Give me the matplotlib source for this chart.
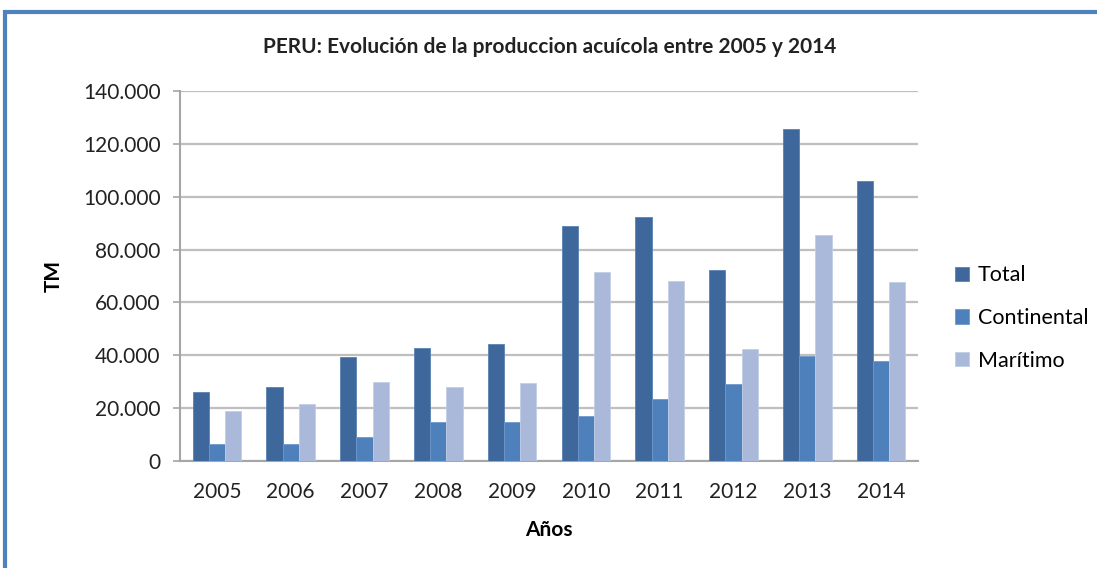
import matplotlib
matplotlib.use("Agg")
import matplotlib.pyplot as plt
import numpy as np
from matplotlib.ticker import FuncFormatter
from matplotlib.patches import Rectangle

years = ["2005", "2006", "2007", "2008", "2009", "2010", "2011", "2012", "2013", "2014"]
total = [26000, 28100, 39500, 42900, 44100, 89000, 92200, 72300, 125500, 106100]
continental = [6300, 6300, 9000, 14600, 14600, 17100, 23300, 29300, 39900, 38000]
maritimo = [18900, 21400, 29800, 28100, 29400, 71400, 68200, 42400, 85600, 67900]

plt.rcParams['font.family'] = ['Lato', 'DejaVu Sans']

fig = plt.figure(figsize=(10.97, 5.68), dpi=100)
ax = fig.add_axes([180/1097, 1 - 461/568, 738/1097, 370/568])

x = np.arange(len(years))
w = 0.22
ax.bar(x - w, total, w, color="#3E689B", edgecolor="#5A82B5", linewidth=0.6, label="Total", zorder=3)
ax.bar(x, continental, w, color="#4E80BC", edgecolor="#6E98CC", linewidth=0.6, label="Continental", zorder=3)
ax.bar(x + w, maritimo, w, color="#AAB9D9", edgecolor="#C2CEE6", linewidth=0.6, label="Marítimo", zorder=3)

ax.set_xlim(-0.5, 9.5)
ax.set_ylim(0, 140000)
ax.set_yticks(range(0, 140001, 20000))
ax.yaxis.set_major_formatter(FuncFormatter(lambda v, p: f"{int(v):,}".replace(",", ".")))
ax.set_xticks(x)
ax.set_xticklabels(years)

ax.grid(axis="y", color="#BFBFBF", linewidth=1.6, zorder=0)
for s in ["top", "right"]:
    ax.spines[s].set_visible(False)
ax.spines["left"].set_color("#A6A6A6")
ax.spines["bottom"].set_color("#A6A6A6")
ax.spines["left"].set_linewidth(1.5)
ax.spines["bottom"].set_linewidth(1.5)
ax.tick_params(axis="y", colors="#A6A6A6", length=5, width=1.2, labelsize=15, labelcolor="#222222", pad=9)
ax.tick_params(axis="x", length=0, labelsize=15, labelcolor="#222222", pad=15)

ax.set_ylabel("TM", fontsize=15, fontweight="bold", labelpad=14)
ax.set_xlabel("Años", fontsize=15, fontweight="bold", labelpad=13)
fig.text(550/1097, 1 - 47/568, "PERU: Evolución de la produccion acuícola entre 2005 y 2014",
         ha="center", va="center", fontsize=15, fontweight="bold", color="#222222")

ax.legend(loc="center left", bbox_to_anchor=(955/738 - 180/738, 1 - (318 - 91)/370), frameon=False,
          fontsize=15.5, handlelength=0.65, handleheight=0.65, handletextpad=0.4, labelspacing=1.05,
          borderaxespad=0, borderpad=0)

fig.patches.append(Rectangle((5/1097, -0.1), 1.2, 1 - 12/568 + 0.1, transform=fig.transFigure,
                             fill=False, edgecolor="#4F81BD", linewidth=3, figure=fig))

fig.savefig("out.png", dpi=100)
